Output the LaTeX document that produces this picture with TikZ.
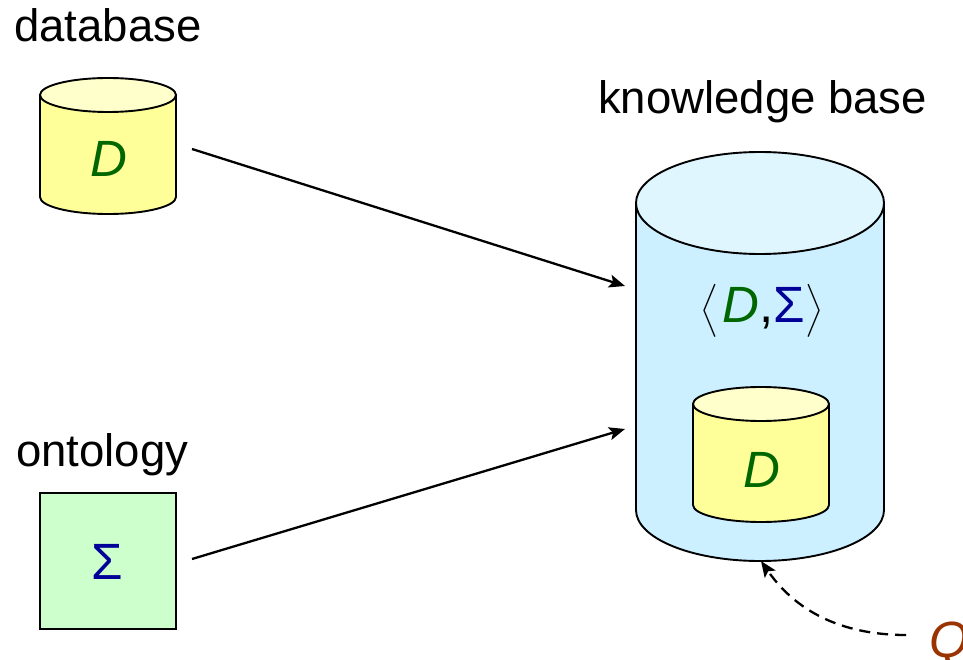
\documentclass[tikz,border=0pt]{standalone}
\usepackage{fontspec}
\setmainfont{Liberation Sans}
\usetikzlibrary{arrows.meta}
\definecolor{dgreen}{HTML}{006600}
\definecolor{dblue}{HTML}{000099}
\definecolor{qbrown}{HTML}{993300}
\definecolor{cylY}{HTML}{FFFF99}
\definecolor{cylYtop}{HTML}{FFFFCC}
\definecolor{cylB}{HTML}{CCF0FF}
\definecolor{cylBtop}{HTML}{DFF6FF}
\definecolor{boxG}{HTML}{CCFFCC}
\tikzset{
  x=1pt,y=-1pt,
  shape line/.style={draw=black,line width=1.9pt},
  title/.style={font=\fontsize{45.5}{50}\selectfont,text=black,inner sep=0pt,anchor=base west},
  symb/.style={font=\fontsize{51}{56}\selectfont,inner sep=0pt,anchor=base},
  port/.style={inner sep=0pt,minimum size=0pt,outer sep=0pt},
  flow/.style={draw=black,line width=2.3pt,-{Stealth[length=16pt,width=13pt,inset=3.5pt]}},
  flowdash/.style={flow,dash pattern=on 11pt off 7pt},
}
\newcommand{\bigangle}[1]{\raisebox{3.5pt}{\scalebox{2.95}{\fontsize{10}{12}\selectfont$\Big#1$}}}
% #1 left, #2 right, #3 top centre, #4 bottom centre, #5 ry, #6 side colour, #7 lid colour
\newcommand{\drumshape}[7]{%
  \pgfmathsetmacro{\drumrx}{(#2-#1)/2}%
  \filldraw[shape line,fill=#6] (#1,#3) -- (#1,#4) arc[start angle=180,end angle=360,x radius=\drumrx pt,y radius=#5 pt] -- (#2,#3) -- cycle;
  \filldraw[shape line,fill=#7] ({(#1+#2)/2},#3) ellipse[x radius=\drumrx pt,y radius=#5 pt];
}
\begin{document}
\begin{tikzpicture}
\useasboundingbox (0,0) rectangle (963,660);
\drumshape{40}{176}{95}{197}{17}{cylY}{cylYtop}
\drumshape{636}{884}{203}{510}{51}{cylB}{cylBtop}
\drumshape{693}{829}{404}{505}{17}{cylY}{cylYtop}
\node[shape line,fill=boxG,minimum width=136pt,minimum height=136pt,inner sep=0pt,outer sep=0pt] (onto) at (108,561) {};

\node[title] (tdb) at (14,42) {database};
\node[title] (tkb) at (598,114) {knowledge base};
\node[title] (ton) at (16,466) {ontology};

\node[symb,text=dgreen] (d1) at (109,177) {\textit{D}};
\node[symb,text=dgreen] (d2) at (762,487) {\textit{D}};
\node[symb,text=dblue] (sig) at (107,579) {Σ};
\node[symb,anchor=base west] (pair) at (700,322) {\bigangle{\langle}\kern4pt\textcolor{dgreen}{\textit{D}},\textcolor{dblue}{Σ}\kern1pt\bigangle{\rangle}};
\node[symb,text=qbrown,anchor=base west] (q) at (929,657) {\textit{Q}};

\node[port] (dbout) at (192,149) {};
\node[port] (onout) at (192,559) {};
\node[port] (kbin1) at (625,286) {};
\node[port] (kbin2) at (625,429) {};
\node[port] (kbin3) at (761,561) {};
\node[port] (qout) at (906,635) {};

\draw[flow] (dbout) -- (kbin1);
\draw[flow] (onout) -- (kbin2);
\draw[flowdash] (qout) .. controls (840,635) and (795,610) .. (kbin3);
\end{tikzpicture}
\end{document}
